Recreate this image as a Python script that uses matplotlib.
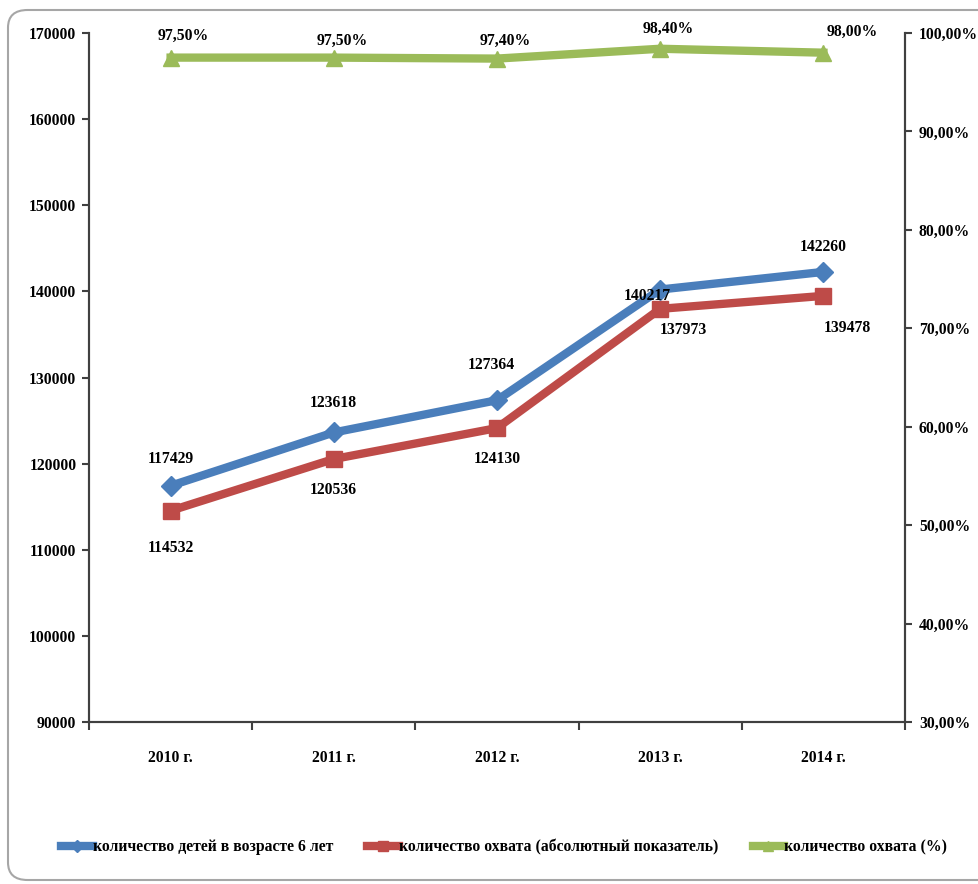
import matplotlib
matplotlib.use("Agg")
import matplotlib.pyplot as plt
from matplotlib.patches import FancyBboxPatch
from matplotlib.ticker import FuncFormatter, FixedLocator

years = ["2010 г.", "2011 г.", "2012 г.", "2013 г.", "2014 г."]
children_6 = [117429, 123618, 127364, 140217, 142260]
coverage_abs = [114532, 120536, 124130, 137973, 139478]
coverage_pct = [97.5, 97.5, 97.4, 98.4, 98.0]

label_children = "количество детей в возрасте 6 лет"
label_abs = "количество охвата (абсолютный показатель)"
label_pct = "количество охвата (%)"

BLUE = "#4A7EBB"
RED = "#BE4B48"
GREEN = "#9BBB59"
AXC = "#404040"

plt.rcParams["font.family"] = ["Liberation Serif", "DejaVu Serif"]
plt.rcParams["font.weight"] = "bold"
FS = 11.3

fig = plt.figure(figsize=(9.79, 8.84), dpi=100)

# rounded chart frame
frame = FancyBboxPatch((8 / 979, 4 / 884), 1.2, 870 / 884,
                       boxstyle="round,pad=0,rounding_size=0.02",
                       transform=fig.transFigure, facecolor="none",
                       edgecolor="#A6A6A6", linewidth=1.5, zorder=-1)
fig.patches.append(frame)

ax = fig.add_axes([89 / 979, 1 - 722 / 884, (905 - 89) / 979, (722 - 33) / 884])
ax.set_facecolor("none")
ax2 = ax.twinx()

x = list(range(len(years)))
ax.plot(x, children_6, color=BLUE, lw=6, marker="D", ms=10, zorder=3,
        label=label_children)
ax.plot(x, coverage_abs, color=RED, lw=6, marker="s", ms=11, zorder=3,
        label=label_abs)
ax2.plot(x, coverage_pct, color=GREEN, lw=6, marker="^", ms=12, zorder=3,
         label=label_pct)

ax.set_xlim(-0.5, len(years) - 0.5)
ax.set_ylim(90000, 170000)
ax2.set_ylim(30, 100)
ax.set_yticks(range(90000, 170001, 10000))
ax2.set_yticks(range(30, 101, 10))
ax2.yaxis.set_major_formatter(FuncFormatter(lambda v, p: f"{v:.2f}%".replace(".", ",")))

ax.set_xticks(x)
ax.set_xticklabels(years)
ax.xaxis.set_minor_locator(FixedLocator([i + 0.5 for i in range(-1, len(years))]))
ax.tick_params(axis="x", which="major", length=0, pad=20, labelsize=FS)
ax.tick_params(axis="x", which="minor", length=6, width=1.5, color=AXC, direction="out")
ax.tick_params(axis="y", length=5, width=1.5, color=AXC, labelsize=FS, pad=4)
ax2.tick_params(axis="y", length=5, width=1.5, color=AXC, labelsize=FS, pad=5)

for a in (ax, ax2):
    a.spines["top"].set_visible(False)
    for s in ("left", "right", "bottom"):
        a.spines[s].set_color(AXC)
        a.spines[s].set_linewidth(1.5)

# value labels (offsets in points)
blue_off = [(0, 19), (0, 21), (-4, 25), (-9, -5), (0, 18)]
red_off = [(0, -27), (0, -22), (0, -22), (17, -15), (17, -23)]
green_off = [(9, 16), (6, 12), (6, 13), (6, 14), (21, 15)]

for i, v in enumerate(children_6):
    ax.annotate(f"{v}", (x[i], v), xytext=blue_off[i], textcoords="offset points",
                ha="center", va="center", fontsize=FS, fontweight="bold")
for i, v in enumerate(coverage_abs):
    ax.annotate(f"{v}", (x[i], v), xytext=red_off[i], textcoords="offset points",
                ha="center", va="center", fontsize=FS, fontweight="bold")
for i, v in enumerate(coverage_pct):
    ax2.annotate(f"{v:.2f}%".replace(".", ","), (x[i], v), xytext=green_off[i],
                 textcoords="offset points", ha="center", va="center",
                 fontsize=FS, fontweight="bold")

h1, l1 = ax.get_legend_handles_labels()
h2, l2 = ax2.get_legend_handles_labels()
fig.legend(h1 + h2, l1 + l2, loc="center", bbox_to_anchor=(0.515, 1 - 847 / 884),
           ncol=3, frameon=False, fontsize=FS, handlelength=2.0, handletextpad=0.0,
           columnspacing=2.2, markerscale=0.6)

fig.savefig("out.png", dpi=100)
